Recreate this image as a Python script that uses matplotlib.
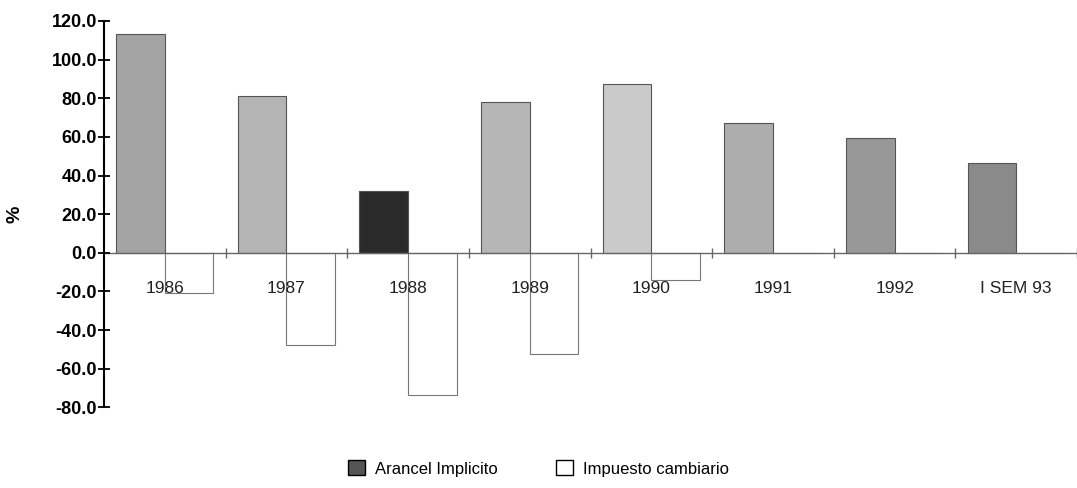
import numpy as np
import matplotlib.pyplot as plt
from matplotlib.patches import Patch

# data
periods = ['1986', '1987', '1988', '1989', '1990', '1991', '1992', 'I SEM 93']
arancel = [113.1, 81.4, 32.1, 77.9, 87.5, 67.1, 59.4, 46.3]
impuesto = [-20.8, -47.7, -73.8, -52.2, -13.9, 0.0, 0.0, 0.0]

# bar shades (style only)
shades = ['#a4a4a4', '#b4b4b4', '#2a2a2a', '#b6b6b6', '#cacaca', '#adadad', '#989898', '#8a8a8a']

plt.rcParams['font.family'] = ['Liberation Sans', 'DejaVu Sans']

fig = plt.figure(figsize=(10.77, 4.88), dpi=100)
ax = fig.add_axes([0.0966, 0.1654, 0.9034, 0.7916])
ax.set_axisbelow(False)

x = np.arange(len(periods))
w = 0.4
ax.bar(x - w / 2, arancel, width=w, color=shades, edgecolor='#555555', linewidth=0.8, zorder=2)
ax.bar(x + w / 2, impuesto, width=w, color='white', edgecolor='#777777', linewidth=0.8, zorder=2)

ax.set_xlim(-0.5, len(periods) - 0.5)
ax.set_ylim(-80, 120)
ax.set_yticks(np.arange(-80, 121, 20))
ax.set_yticklabels([f'{v:.1f}' for v in np.arange(-80, 121, 20)], fontsize=13, fontweight='bold')
ax.tick_params(axis='y', direction='inout', length=8, width=1.3, pad=1)

for s in ['top', 'right']:
    ax.spines[s].set_visible(False)
ax.spines['left'].set_linewidth(1.5)
ax.spines['bottom'].set_position(('data', 0))
ax.spines['bottom'].set_color('#666666')
ax.spines['bottom'].set_linewidth(1.0)

ax.set_xticks(x)
ax.set_xticklabels(periods, fontsize=12.5, color='#222222')
ax.tick_params(axis='x', length=0, pad=20)
ax.set_xticks(np.arange(-0.5, len(periods), 1.0)[1:], minor=True)
ax.tick_params(axis='x', which='minor', direction='inout', length=7, width=1.0, color='#666666')

ax.set_ylabel('%', fontsize=14, fontweight='bold', labelpad=20)

handles = [Patch(facecolor='#555555', edgecolor='black', label='Arancel Implicito'),
           Patch(facecolor='white', edgecolor='black', label='Impuesto cambiario')]
fig.legend(handles=handles, loc='center', bbox_to_anchor=(0.5, 0.04), ncol=2, frameon=False,
           fontsize=12, handlelength=1.0, handleheight=1.0, columnspacing=3.5, handletextpad=0.6)

fig.savefig('out.png', dpi=100)
